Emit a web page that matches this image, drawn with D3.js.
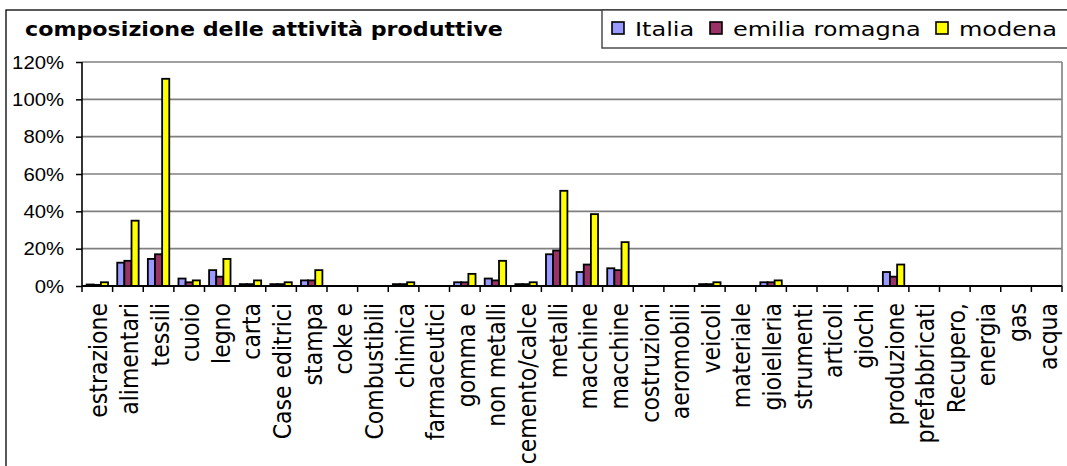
<!DOCTYPE html>
<html>
<head>
<meta charset="utf-8">
<script src="https://cdn.jsdelivr.net/npm/d3@7"></script>
<style>
  html, body { margin: 0; padding: 0; background: #fff; }
  svg { display: block; }
</style>
</head>
<body>
<svg id="chart" width="1067" height="466"></svg>
<script>
const categories = ["estrazione","alimentari","tessili","cuoio","legno","carta","Case editrici","stampa","coke e","Combustibili","chimica","farmaceutici","gomma e","non metalli","cemento/calce","metalli","macchine","macchine","costruzioni","aeromobili","veicoli","materiale","gioielleria","strumenti","articoli","giochi","produzione","prefabbricati","Recupero,","energia","gas","acqua"];
const seriesNames = ["Italia","emilia romagna","modena"];
const italia  = [0.8,12.5,14.5,4,8.5,1,1,3,0,0,1,0,2,4,1,17,7.5,9.5,0,0,1,0,2,0,0,0,7.5,0,0,0,0,0];
const emilia  = [0.6,13.5,17,2,5,1,1,3,0,0,1,0,2,3,1,19,11.5,8.5,0,0,1,0,2,0,0,0,5,0,0,0,0,0];
const modena  = [2,35,111,3,14.5,3,2,8.5,0,0,2,0,6.5,13.5,2,51,38.5,23.5,0,0,2,0,3,0,0,0,11.5,0,0,0,0,0];
const yTicks = [0,20,40,60,80,100,120];
const colors = ["#9999FF","#993366","#FFFF00"];
const chartTitle = "composizione delle attività produttive";

(function(){
const seriesValues = [italia, emilia, modena];
const svg = d3.select("#chart");

// chart outer border
svg.append("rect").attr("x",6).attr("y",10).attr("width",1100).attr("height",500)
  .attr("fill","none").attr("stroke","#000").attr("stroke-width",1.3);

const pL = 82, pR = 1062, pT = 62, pB = 286;

const x0 = d3.scaleBand().domain(categories.map((c,i)=>i)).range([pL,pR])
  .paddingInner(0.3).paddingOuter(0.15);
const x1 = d3.scaleBand().domain(seriesNames).range([0, x0.bandwidth()]);
const y = d3.scaleLinear().domain([0,120]).range([pB, pT]);

// gridlines
svg.append("g").selectAll("line").data(yTicks.filter(d=>d>0)).join("line")
  .attr("x1",pL).attr("x2",pR).attr("y1",d=>y(d)).attr("y2",d=>y(d))
  .attr("stroke","#808080").attr("stroke-width",1.6);
// right border of plot
svg.append("line").attr("x1",pR).attr("x2",pR).attr("y1",pT).attr("y2",pB)
  .attr("stroke","#808080").attr("stroke-width",1.6);

// bars
const groups = svg.append("g").selectAll("g").data(categories.map((c,i)=>i)).join("g")
  .attr("transform", i => `translate(${x0(i)},0)`);
groups.selectAll("rect")
  .data(i => seriesNames.map((s,k)=>({s, k, v: seriesValues[k][i]})).filter(d=>d.v>0))
  .join("rect")
  .attr("x", d => x1(d.s))
  .attr("width", x1.bandwidth())
  .attr("y", d => y(d.v))
  .attr("height", d => y(0) - y(d.v))
  .attr("fill", d => colors[d.k])
  .attr("stroke","#000").attr("stroke-width",1.8);

// y axis
const yAxis = svg.append("g").attr("transform",`translate(${pL},0)`)
  .call(d3.axisLeft(y).tickValues(yTicks).tickSize(6).tickFormat(d=>d+"%"));
yAxis.select(".domain").attr("stroke","#000").attr("stroke-width",1.6).attr("d",`M0,${pT}V${pB}`);
yAxis.selectAll(".tick line").attr("stroke","#000").attr("stroke-width",1.5);
yAxis.selectAll(".tick text")
  .attr("x",null).attr("dy","0.36em")
  .attr("transform","translate(-18,0) scale(1.16,1)")
  .attr("text-anchor","end")
  .style("font-family","'Liberation Sans', Arial, sans-serif")
  .style("font-size","17.5px").attr("fill","#000");

// x axis (ticks at category boundaries)
const bounds = d3.range(categories.length+1).map(i => pL + i*x0.step());
const xAxis = svg.append("g");
xAxis.append("line").attr("x1",pL).attr("x2",pR).attr("y1",pB).attr("y2",pB)
  .attr("stroke","#000").attr("stroke-width",2);
xAxis.selectAll("line.t").data(bounds).join("line").attr("class","t")
  .attr("x1",d=>d).attr("x2",d=>d).attr("y1",pB).attr("y2",pB+6)
  .attr("stroke","#000").attr("stroke-width",1.5);
xAxis.selectAll("text").data(categories).join("text")
  .attr("transform",(c,i)=>`translate(${x0(i)+x0.bandwidth()/2+10},303) scale(1.15,1) rotate(-90)`)
  .attr("text-anchor","end")
  .style("font-family","'DejaVu Sans', Verdana, sans-serif")
  .style("font-size","22px").attr("fill","#000")
  .text(c=>c);

// title
svg.append("text").attr("transform","translate(25,36) scale(1.11,1)")
  .style("font-family","'DejaVu Sans', Verdana, sans-serif")
  .style("font-weight","bold").style("font-size","20px").attr("fill","#000")
  .text(chartTitle);

// legend
svg.append("rect").attr("x",602).attr("y",10).attr("width",480).attr("height",38)
  .attr("fill","#fff").attr("stroke","#404040").attr("stroke-width",1.4);
const legX = [611, 709, 935];
const leg = svg.append("g").selectAll("g").data(seriesNames).join("g")
  .attr("transform",(d,i)=>`translate(${legX[i]},0)`);
leg.append("rect").attr("x",1).attr("y",22).attr("width",12).attr("height",12)
  .attr("fill",(d,i)=>colors[i]).attr("stroke","#000").attr("stroke-width",1.6);
leg.append("text").attr("transform","translate(24,36) scale(1.2,1)")
  .style("font-family","'DejaVu Sans', Verdana, sans-serif")
  .style("font-size","20px").attr("fill","#000")
  .text(d=>d);
})();
</script>
</body>
</html>
